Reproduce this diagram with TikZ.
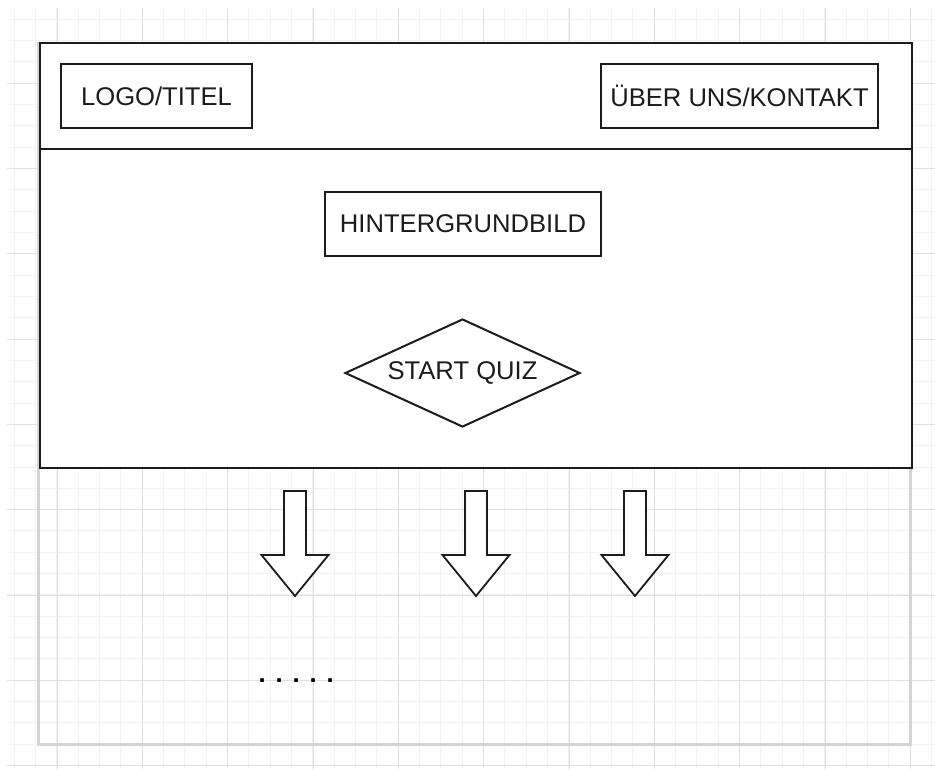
\documentclass[tikz,border=0pt]{standalone}
\usepackage{fontspec}
\setmainfont{Liberation Sans}
\usetikzlibrary{shapes.geometric}
\definecolor{gridminor}{RGB}{242,242,242}
\definecolor{gridmajor}{RGB}{224,224,224}
\definecolor{pageline}{RGB}{212,212,212}
\definecolor{ink}{RGB}{28,28,28}
\tikzset{
  labelfont/.style={font=\fontsize{25.6}{30}\selectfont, text=ink},
  box/.style={draw=ink, line width=2pt, fill=white, inner sep=0pt, labelfont},
  blockarrow/.pic={
    \draw[ink, line width=1.8pt, fill=white, line join=miter]
      (-11,0) -- (11,0) -- (11,64) -- (33.5,64) -- (0,105) -- (-33.5,64) -- (-11,64) -- cycle;
  }
}
\begin{document}
\begin{tikzpicture}[x=1pt, y=-1pt]
\useasboundingbox (0,0) rectangle (935,769);
% background grid
\begin{scope}
  \clip (7,8) rectangle (935,769);
  \foreach \i in {0,...,43} {
    \draw[gridminor, line width=1pt] ({14.333+\i*21.333},8) -- ++(0,761);
  }
  \foreach \i in {0,...,35} {
    \draw[gridminor, line width=1pt] (7,{19+\i*21.333}) -- ++(928,0);
  }
  \foreach \i in {0,...,10} {
    \draw[gridmajor, line width=1pt] ({57+\i*85.333},8) -- ++(0,761);
  }
  \foreach \i in {0,...,8} {
    \draw[gridmajor, line width=1pt] (7,{83+\i*85.333}) -- ++(928,0);
  }
\end{scope}
% page outline
\draw[pageline, line width=3pt] (38,43) rectangle (910,744);
% main frame
\node[draw=ink, line width=2pt, fill=white, minimum width=872pt, minimum height=425pt, inner sep=0pt] (frame) at (476,255.5) {};
\coordinate (divL) at (40,149);
\coordinate (divR) at (912,149);
\draw[ink, line width=2pt] (divL) -- (divR);
% header boxes
\node[box, minimum width=191pt, minimum height=64pt] (logo) at (156.5,96) {LOGO/TITEL};
\node[box, minimum width=277pt, minimum height=64pt] (about) at (739.5,96) {ÜBER UNS/KONTAKT};
% body
\node[box, minimum width=276pt, minimum height=64pt] (bg) at (463,224) {HINTERGRUNDBILD};
\node[box, diamond, aspect=2.18, minimum width=235pt, minimum height=108pt] (quiz) at (462.5,373) {START QUIZ};
% arrows
\pic (arrowA) at (295,491) {blockarrow};
\pic (arrowB) at (476,491) {blockarrow};
\pic (arrowC) at (635,491) {blockarrow};
% dots
\node[labelfont, font=\fontsize{25.6}{30}\selectfont\bfseries, text=black, inner sep=0pt, anchor=base west] (dots) at (258.4,682) {.\kern9.9pt.\kern9.9pt.\kern9.9pt.\kern9.9pt.};
\end{tikzpicture}
\end{document}
